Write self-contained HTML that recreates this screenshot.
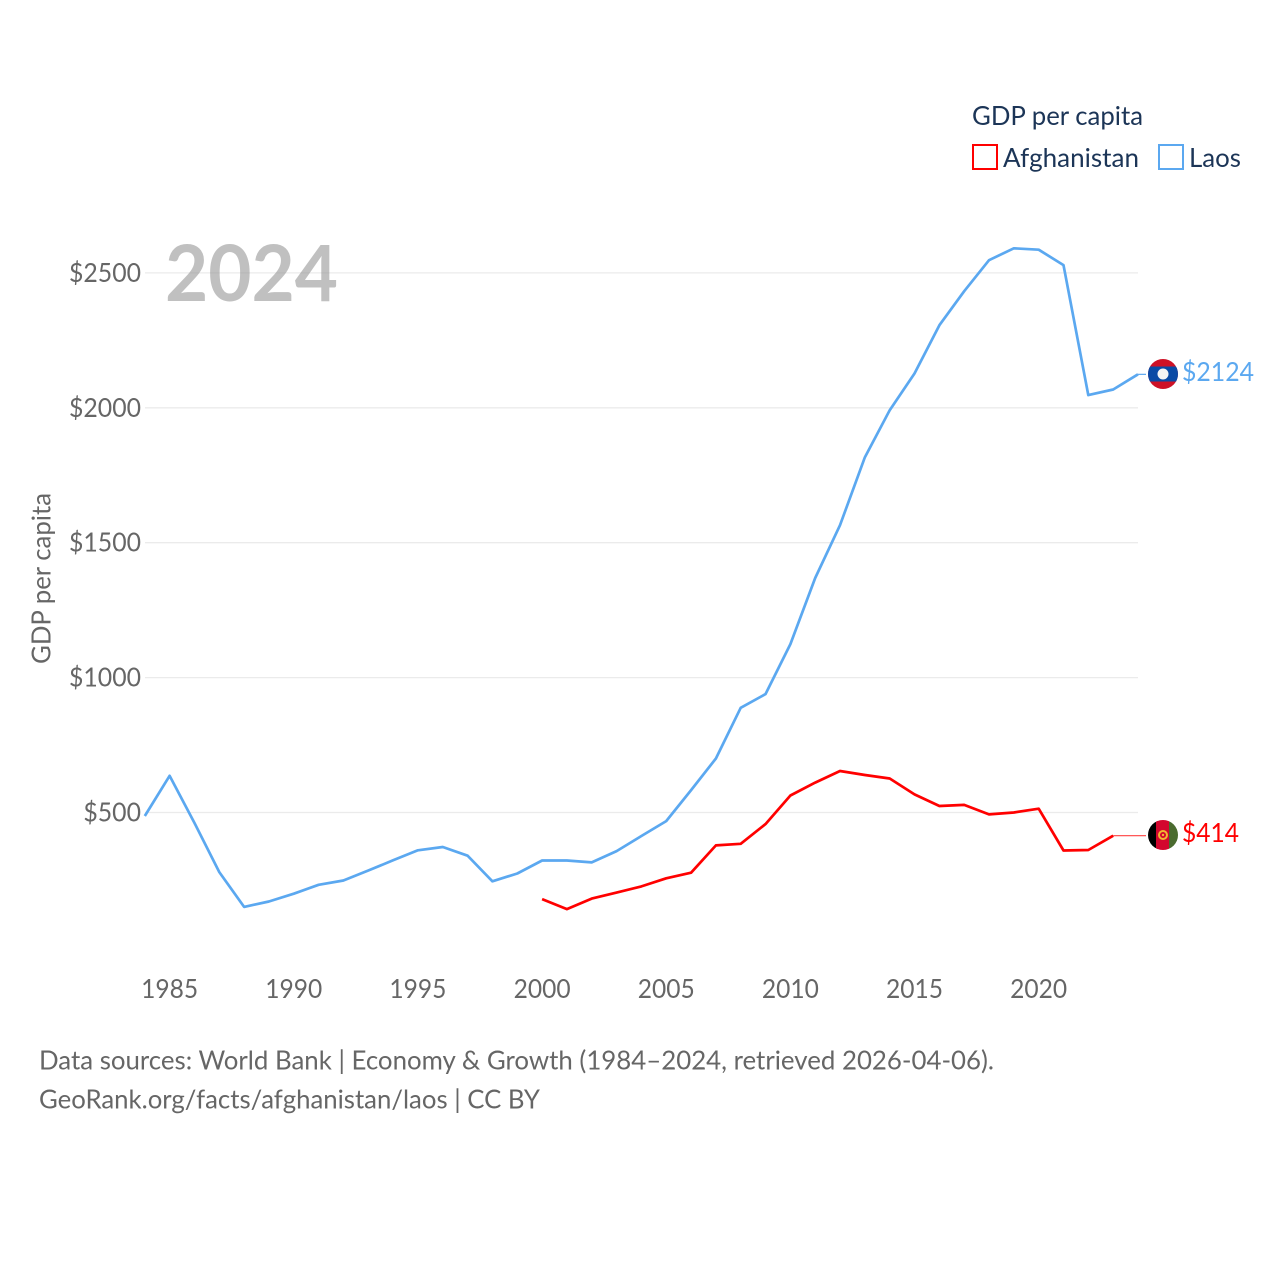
<!DOCTYPE html>
<html lang="en">
<head>
<meta charset="utf-8">
<title>GDP per capita: Afghanistan and Laos</title>
<style>
html,body{margin:0;padding:0;background:#fff;}
svg{display:block;}
text{font-family:"Lato","Carlito","Liberation Sans",sans-serif;}
</style>
</head>
<body>
<svg id="chart" xmlns="http://www.w3.org/2000/svg" width="1280" height="1280" viewBox="0 0 1280 1280">
  <rect width="1280" height="1280" fill="#ffffff"/>
  <g id="grid"></g>
  <g id="yticks"></g>
  <g id="xticks"></g>
  <text x="165" y="301" font-size="78" font-weight="700" fill="#999999" fill-opacity="0.62" textLength="173" lengthAdjust="spacingAndGlyphs">2024</text>
  <text transform="translate(50.5 578.5) rotate(-90)" text-anchor="middle" font-size="26" fill="#666666" textLength="171" lengthAdjust="spacingAndGlyphs">GDP per capita</text>
  <g id="series"></g>

  <defs>
    <clipPath id="flag-clip-la"><circle cx="1163" cy="374" r="15"/></clipPath>
    <clipPath id="flag-clip-af"><circle cx="1163" cy="835" r="15"/></clipPath>
  </defs>
  <g clip-path="url(#flag-clip-la)">
    <rect x="1148" y="359" width="30" height="30" fill="#ce1126"/>
    <rect x="1148" y="366.5" width="30" height="15" fill="#0a4aa5"/>
    <circle cx="1163" cy="374" r="5.5" fill="#f4f4f4"/>
  </g>
  <g clip-path="url(#flag-clip-af)">
    <rect x="1148" y="820" width="10" height="30" fill="#000000"/>
    <rect x="1156" y="820" width="13" height="30" fill="#d3062e"/>
    <rect x="1169" y="820" width="10" height="30" fill="#4a6b2f"/>
    <circle cx="1163" cy="835" r="4" fill="none" stroke="#f2b632" stroke-width="2"/>
    <circle cx="1163" cy="835" r="1.2" fill="#f2b632"/>
  </g>
  <text id="label-la" x="1182" y="381" font-size="26" fill="#5ba8f0" textLength="72" lengthAdjust="spacingAndGlyphs"></text>
  <text id="label-af" x="1182" y="842" font-size="26" fill="#ff0000" textLength="57" lengthAdjust="spacingAndGlyphs"></text>

  <g>
    <text x="972" y="125" font-size="26" fill="#1c3557" textLength="171" lengthAdjust="spacingAndGlyphs">GDP per capita</text>
    <g>
      <rect x="973" y="145" width="24" height="24" fill="#ffffff" stroke="#ff0000" stroke-width="2"/>
      <text x="1003" y="167" font-size="26" fill="#1c3557" textLength="136" lengthAdjust="spacingAndGlyphs">Afghanistan</text>
    </g>
    <g>
      <rect x="1159" y="145" width="24" height="24" fill="#ffffff" stroke="#5ba8f0" stroke-width="2"/>
      <text x="1189" y="167" font-size="26" fill="#1c3557" textLength="52" lengthAdjust="spacingAndGlyphs">Laos</text>
    </g>
  </g>

  <text x="39" y="1069.5" font-size="26" fill="#666666" textLength="955" lengthAdjust="spacingAndGlyphs">Data sources: World Bank | Economy &amp; Growth (1984–2024, retrieved 2026-04-06).</text>
  <text x="39" y="1108.5" font-size="26" fill="#666666" textLength="501" lengthAdjust="spacingAndGlyphs">GeoRank.org/facts/afghanistan/laos | CC BY</text>
</svg>
<script>
const yearsLaos = [1984,1985,1986,1987,1988,1989,1990,1991,1992,1993,1994,1995,1996,1997,1998,1999,2000,2001,2002,2003,2004,2005,2006,2007,2008,2009,2010,2011,2012,2013,2014,2015,2016,2017,2018,2019,2020,2021,2022,2023,2024];
const valuesLaos = [487,636,461,279,150,170,199,232,248,285,323,360,372,340,245,274,322,322,315,357,413,468,583,700,888,939,1124,1369,1565,1817,1991,2127,2306,2432,2547,2591,2586,2529,2047,2068,2124];
const yearsAfghanistan = [2000,2001,2002,2003,2004,2005,2006,2007,2008,2009,2010,2011,2012,2013,2014,2015,2016,2017,2018,2019,2020,2021,2022,2023,2024];
const valuesAfghanistan = [179,142,181,203,226,256,277,378,384,457,563,611,654,639,626,567,524,528,493,500,514,359,361,414,414];
const yTickValues = [500,1000,1500,2000,2500];
const xTickValues = [1985,1990,1995,2000,2005,2010,2015,2020];

const NS = 'http://www.w3.org/2000/svg';
const xScale = function (year) { return 144.8 + (year - 1984) * 24.83; };
const yScale = function (value) { return 947.4 - value * 0.2698; };
const lineTrace = function (xs, ys) {
  return xs.map(function (year, i) {
    return (i ? 'L' : 'M') + xScale(year).toFixed(1) + ' ' + yScale(ys[i]).toFixed(1);
  }).join(' ');
};

const gridGroup = document.getElementById('grid');
const yTickGroup = document.getElementById('yticks');
yTickValues.forEach(function (value) {
  const line = document.createElementNS(NS, 'line');
  
  
  line.setAttribute('x1', 145);
  line.setAttribute('x2', 1138);
  line.setAttribute('y1', yScale(value));
  line.setAttribute('y2', yScale(value));
  line.setAttribute('stroke', '#ebebeb');
  line.setAttribute('stroke-width', 1.3);
  gridGroup.appendChild(line);

  const tick = document.createElementNS(NS, 'text');
  const tickText = '$' + value;
  
  
  tick.setAttribute('x', 141);
  tick.setAttribute('y', yScale(value) + 9);
  tick.setAttribute('text-anchor', 'end');
  tick.setAttribute('font-size', 26);
  tick.setAttribute('fill', '#666666');
  tick.setAttribute('textLength', tickText.length * 14.4);
  tick.setAttribute('lengthAdjust', 'spacingAndGlyphs');
  tick.textContent = tickText;
  yTickGroup.appendChild(tick);
});

const xTickGroup = document.getElementById('xticks');
xTickValues.forEach(function (year) {
  const tick = document.createElementNS(NS, 'text');
  
  
  tick.setAttribute('x', xScale(year));
  tick.setAttribute('y', 998);
  tick.setAttribute('text-anchor', 'middle');
  tick.setAttribute('font-size', 26);
  tick.setAttribute('fill', '#666666');
  tick.setAttribute('textLength', 57);
  tick.setAttribute('lengthAdjust', 'spacingAndGlyphs');
  tick.textContent = String(year);
  xTickGroup.appendChild(tick);
});

const seriesGroup = document.getElementById('series');

const laosLine = document.createElementNS(NS, 'path');


laosLine.setAttribute('d', lineTrace(yearsLaos, valuesLaos));
laosLine.setAttribute('fill', 'none');
laosLine.setAttribute('stroke', '#5ba8f0');
laosLine.setAttribute('stroke-width', 2.7);
laosLine.setAttribute('stroke-linejoin', 'round');
seriesGroup.appendChild(laosLine);

const afghanistanLine = document.createElementNS(NS, 'path');


afghanistanLine.setAttribute('d', lineTrace(yearsAfghanistan.slice(0, -1), valuesAfghanistan.slice(0, -1)));
afghanistanLine.setAttribute('fill', 'none');
afghanistanLine.setAttribute('stroke', '#ff0000');
afghanistanLine.setAttribute('stroke-width', 2.7);
afghanistanLine.setAttribute('stroke-linejoin', 'round');
seriesGroup.appendChild(afghanistanLine);

const afghanistanEnd = document.createElementNS(NS, 'path');


afghanistanEnd.setAttribute('d', lineTrace(yearsAfghanistan.slice(-2), valuesAfghanistan.slice(-2)) + ' H1146');
afghanistanEnd.setAttribute('fill', 'none');
afghanistanEnd.setAttribute('stroke', '#ff0000');
afghanistanEnd.setAttribute('stroke-opacity', 0.75);
afghanistanEnd.setAttribute('stroke-width', 1.2);
seriesGroup.appendChild(afghanistanEnd);

const laosEnd = document.createElementNS(NS, 'path');


laosEnd.setAttribute('d', 'M' + xScale(2024) + ' ' + yScale(valuesLaos[valuesLaos.length - 1]) + ' H1146');
laosEnd.setAttribute('fill', 'none');
laosEnd.setAttribute('stroke', '#5ba8f0');
laosEnd.setAttribute('stroke-width', 1.2);
seriesGroup.appendChild(laosEnd);

document.getElementById('label-la').textContent = '$' + valuesLaos[valuesLaos.length - 1];
document.getElementById('label-af').textContent = '$' + valuesAfghanistan[valuesAfghanistan.length - 1];
</script>
</body>
</html>
